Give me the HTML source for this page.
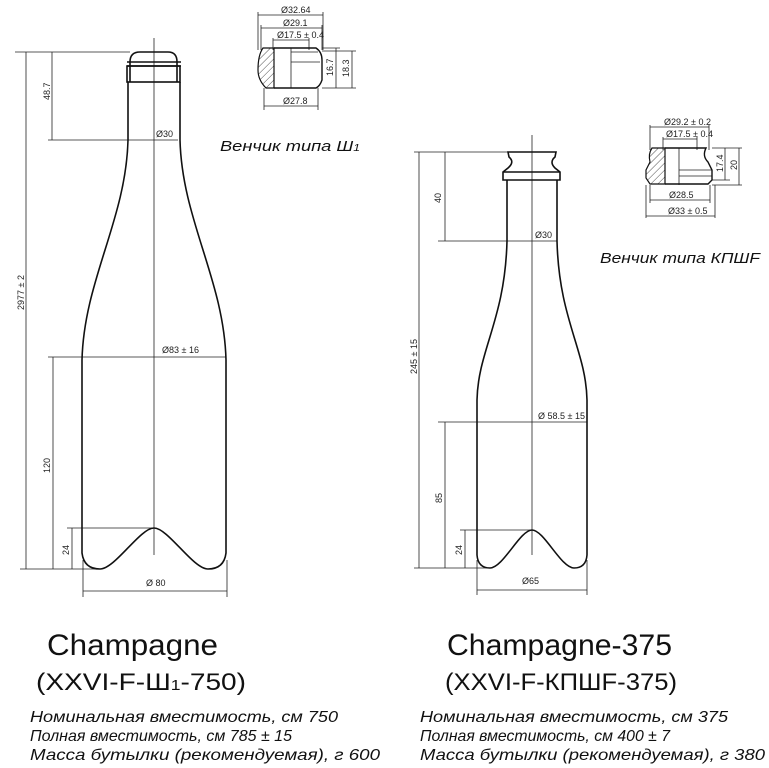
<!DOCTYPE html>
<html><head><meta charset="utf-8"><style>
html,body{margin:0;padding:0;background:#fff;}
svg{display:block;}
.d{font-family:"Liberation Sans Narrow","Liberation Sans",sans-serif;font-size:9px;fill:#222;}
.t{font-family:"Liberation Sans",sans-serif;fill:#111;}
.i{font-family:"Liberation Sans",sans-serif;font-style:italic;fill:#111;}
</style></head><body>
<svg width="769" height="768" viewBox="0 0 769 768" xmlns="http://www.w3.org/2000/svg">
<defs>
<pattern id="h" width="5" height="5" patternUnits="userSpaceOnUse" patternTransform="rotate(45)"><line x1="0" y1="0" x2="0" y2="5" stroke="#222" stroke-width="0.8"/></pattern>
</defs>
<g fill="none" stroke="#222" stroke-width="0.8">
<line x1="154" y1="38" x2="154" y2="555"/>
<line x1="26" y1="52" x2="26" y2="569"/>
<line x1="15" y1="52" x2="130" y2="52"/>
<line x1="52" y1="52" x2="52" y2="140"/>
<line x1="48" y1="140" x2="178" y2="140"/>
<line x1="53" y1="357" x2="53" y2="569"/>
<line x1="48" y1="357" x2="226" y2="357"/>
<line x1="72" y1="528" x2="72" y2="569"/>
<line x1="67" y1="528" x2="154" y2="528"/>
<line x1="20" y1="569" x2="100" y2="569"/>
<line x1="83" y1="560" x2="83" y2="597"/>
<line x1="227" y1="560" x2="227" y2="597"/>
<line x1="83" y1="591" x2="227" y2="591"/>
<line x1="532" y1="135" x2="532" y2="555"/>
<line x1="419" y1="152" x2="419" y2="568"/>
<line x1="414" y1="152" x2="510" y2="152"/>
<line x1="445" y1="152" x2="445" y2="241"/>
<line x1="438" y1="241" x2="557" y2="241"/>
<line x1="445" y1="422" x2="445" y2="568"/>
<line x1="438" y1="422" x2="587" y2="422"/>
<line x1="465" y1="530" x2="465" y2="568"/>
<line x1="460" y1="530" x2="532" y2="530"/>
<line x1="414" y1="568" x2="490" y2="568"/>
<line x1="477" y1="560" x2="477" y2="595"/>
<line x1="587" y1="560" x2="587" y2="595"/>
<line x1="477" y1="590" x2="587" y2="590"/>
</g>
<g fill="none" stroke="#111" stroke-width="1.6">
<path d="M130,82 L130,62 Q130,52 140,52 L168,52 Q177,52 177,62 L177,82"/>
<path d="M127,62 L181,62 M127,66 L181,66"/>
<rect x="127" y="66" width="53" height="16"/>
<path d="M128,82 L128,140 C126,220 84,280 82,360 L82,553 Q84,569 100,569 C115,569 140,528 154,528 C168,528 193,569 208,569 Q224,569 226,553 L226,360 C224,280 182,220 180,140 L180,82"/>
<path d="M508,152 L556,152 L555,157 Q549,162 555,168 L560,172 L560,180 L503,180 L503,172 L508,168 Q515,162 509,157 Z"/>
<line x1="503" y1="172" x2="560" y2="172"/>
<path d="M507,180 L507,241 C505,320 478,350 477,400 L477,555 Q478,568 490,568 C503,568 520,530 532,530 C544,530 561,568 574,568 Q586,568 587,555 L587,400 C586,350 559,320 557,241 L557,180"/>
</g>
<g fill="none" stroke="#222" stroke-width="0.8">
<line x1="258" y1="12" x2="258" y2="50"/><line x1="323" y1="12" x2="323" y2="50"/><line x1="258" y1="15" x2="323" y2="15"/>
<line x1="261" y1="25" x2="261" y2="50"/><line x1="322" y1="25" x2="322" y2="50"/><line x1="261" y1="28" x2="322" y2="28"/>
<line x1="273" y1="38" x2="273" y2="50"/><line x1="309" y1="38" x2="309" y2="50"/><line x1="273" y1="40" x2="309" y2="40"/>
<line x1="264" y1="88" x2="264" y2="110"/><line x1="318" y1="88" x2="318" y2="110"/><line x1="264" y1="106" x2="318" y2="106"/>
<line x1="322" y1="48" x2="340" y2="48"/><line x1="322" y1="88" x2="356" y2="88"/><line x1="322" y1="51" x2="356" y2="51"/>
<line x1="336" y1="48" x2="336" y2="88"/><line x1="352" y1="51" x2="352" y2="88"/>
<line x1="291" y1="48" x2="291" y2="88"/><line x1="291" y1="52" x2="318" y2="52"/><line x1="291" y1="62" x2="320" y2="62"/>
</g>
<path d="M263,48 L274,48 L274,88 L266,88 Q258,80 258,70 Q258,55 263,48 Z" fill="url(#h)" stroke="#111" stroke-width="1.2"/>
<path d="M274,48 L316,48 Q322,52 322,60 L322,80 Q320,86 316,88 L274,88" fill="none" stroke="#111" stroke-width="1.4"/>
<g fill="none" stroke="#222" stroke-width="0.8">
<line x1="650" y1="125" x2="650" y2="150"/><line x1="709" y1="125" x2="709" y2="150"/><line x1="650" y1="127" x2="709" y2="127"/>
<line x1="663" y1="137" x2="663" y2="150"/><line x1="697" y1="137" x2="697" y2="150"/><line x1="663" y1="139" x2="697" y2="139"/>
<line x1="650" y1="185" x2="650" y2="203"/><line x1="710" y1="185" x2="710" y2="203"/><line x1="650" y1="200" x2="710" y2="200"/>
<line x1="646" y1="185" x2="646" y2="218"/><line x1="715" y1="185" x2="715" y2="218"/><line x1="646" y1="216" x2="715" y2="216"/>
<line x1="712" y1="148" x2="742" y2="148"/><line x1="712" y1="180" x2="730" y2="180"/><line x1="712" y1="185" x2="742" y2="185"/>
<line x1="725" y1="148" x2="725" y2="180"/><line x1="739" y1="148" x2="739" y2="185"/>
<line x1="679" y1="148" x2="679" y2="185"/><line x1="679" y1="170" x2="712" y2="170"/><line x1="679" y1="176" x2="712" y2="176"/>
</g>
<path d="M652,148 L665,148 L665,184 L650,184 L646,178 L646,170 L650,162 Q648,154 652,148 Z" fill="url(#h)" stroke="#111" stroke-width="1.2"/>
<path d="M665,148 L706,148 Q702,156 708,162 L712,170 L712,180 L708,184 L665,184" fill="none" stroke="#111" stroke-width="1.4"/>
<g class="d">
<text x="156" y="137">Ø30</text>
<text x="162" y="353">Ø83 ± 16</text>
<text x="146" y="586">Ø 80</text>
<text transform="translate(50,100) rotate(-90)">48.7</text>
<text transform="translate(24,310) rotate(-90)">2977 ± 2</text>
<text transform="translate(50,473) rotate(-90)">120</text>
<text transform="translate(69,555) rotate(-90)">24</text>
<text x="535" y="238">Ø30</text>
<text x="538" y="419">Ø 58.5 ± 15</text>
<text x="522" y="584">Ø65</text>
<text transform="translate(441,203) rotate(-90)">40</text>
<text transform="translate(417,374) rotate(-90)">245 ± 15</text>
<text transform="translate(442,503) rotate(-90)">85</text>
<text transform="translate(462,555) rotate(-90)">24</text>
<text x="281" y="13">Ø32.64</text>
<text x="283" y="26">Ø29.1</text>
<text x="277" y="38">Ø17.5 ± 0.4</text>
<text x="283" y="104">Ø27.8</text>
<text transform="translate(333,76) rotate(-90)">16.7</text>
<text transform="translate(349,77) rotate(-90)">18.3</text>
<text x="664" y="125">Ø29.2 ± 0.2</text>
<text x="666" y="137">Ø17.5 ± 0.4</text>
<text x="669" y="198">Ø28.5</text>
<text x="668" y="214">Ø33 ± 0.5</text>
<text transform="translate(723,172) rotate(-90)">17.4</text>
<text transform="translate(737,170) rotate(-90)">20</text>
</g>
<text class="i" x="220" y="151" font-size="15" textLength="140" lengthAdjust="spacingAndGlyphs">Венчик  типа  Ш<tspan font-size="10">1</tspan></text>
<text class="i" x="600" y="263" font-size="15" textLength="160" lengthAdjust="spacingAndGlyphs">Венчик типа КПШF</text>
<text class="t" x="47" y="655" font-size="30" textLength="171" lengthAdjust="spacingAndGlyphs">Champagne</text>
<text class="t" x="36" y="690" font-size="24" textLength="210" lengthAdjust="spacingAndGlyphs">(XXVI-F-Ш<tspan font-size="15">1</tspan>-750)</text>
<text class="i" x="30" y="722" font-size="16" textLength="308" lengthAdjust="spacingAndGlyphs">Номинальная вместимость, см 750</text>
<text class="i" x="30" y="741" font-size="16" textLength="262" lengthAdjust="spacingAndGlyphs">Полная вместимость, см 785 ± 15</text>
<text class="i" x="30" y="760" font-size="16" textLength="350" lengthAdjust="spacingAndGlyphs">Масса бутылки (рекомендуемая), г 600</text>
<text class="t" x="447" y="655" font-size="30" textLength="225" lengthAdjust="spacingAndGlyphs">Champagne-375</text>
<text class="t" x="445" y="690" font-size="24" textLength="232" lengthAdjust="spacingAndGlyphs">(XXVI-F-КПШF-375)</text>
<text class="i" x="420" y="722" font-size="16" textLength="308" lengthAdjust="spacingAndGlyphs">Номинальная вместимость, см 375</text>
<text class="i" x="420" y="741" font-size="16" textLength="250" lengthAdjust="spacingAndGlyphs">Полная вместимость, см 400 ± 7</text>
<text class="i" x="420" y="760" font-size="16" textLength="345" lengthAdjust="spacingAndGlyphs">Масса бутылки (рекомендуемая), г 380</text>
</svg>
</body></html>
